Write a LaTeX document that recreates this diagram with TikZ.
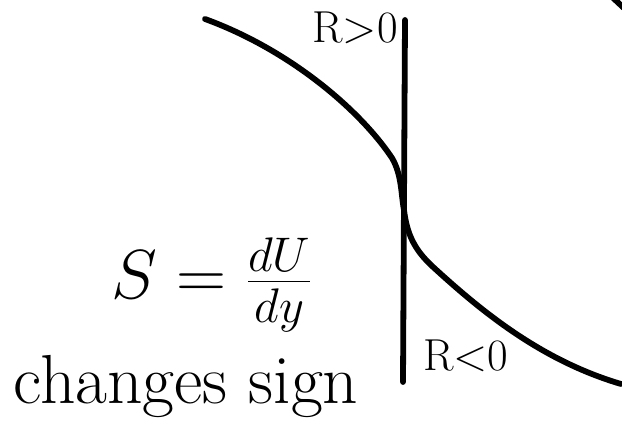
\RequirePackage{fix-cm}
\documentclass[tikz,border=0pt]{standalone}
\usepackage{tikz}

\begin{document}
\begin{tikzpicture}[x=0.02cm,y=-0.02cm,thk/.style={line width=3.3pt,line cap=round},rlab/.style={font=\fontsize{25.5}{30}\selectfont,inner sep=0pt},big/.style={font=\fontsize{39.5}{44}\selectfont,inner sep=0pt}]
\useasboundingbox (0,0) rectangle (622,425);
\clip (0,0) rectangle (622,425);
% profile
\draw[thk] (205,19) .. controls (290,50) and (360,110) .. (392,158)
   .. controls (402,175) and (401,195) .. (404,210)
   .. controls (407,235) and (415,250) .. (432,266)
   .. controls (480,310) and (540,360) .. (621,384);
\draw[thk] (405,20) -- (403,382);
\draw[thk] (611,-4) -- (626,10);
\node[rlab,anchor=east] (rpos) at (398,27.5) {R>0};
\node[rlab,anchor=west] (rneg) at (423,356) {R<0};
\node[big] (shear) at (212,285) {$S=\frac{dU}{dy}$};
\node[big,anchor=base] (sign) at (186,403) {changes sign};
\end{tikzpicture}
\end{document}
